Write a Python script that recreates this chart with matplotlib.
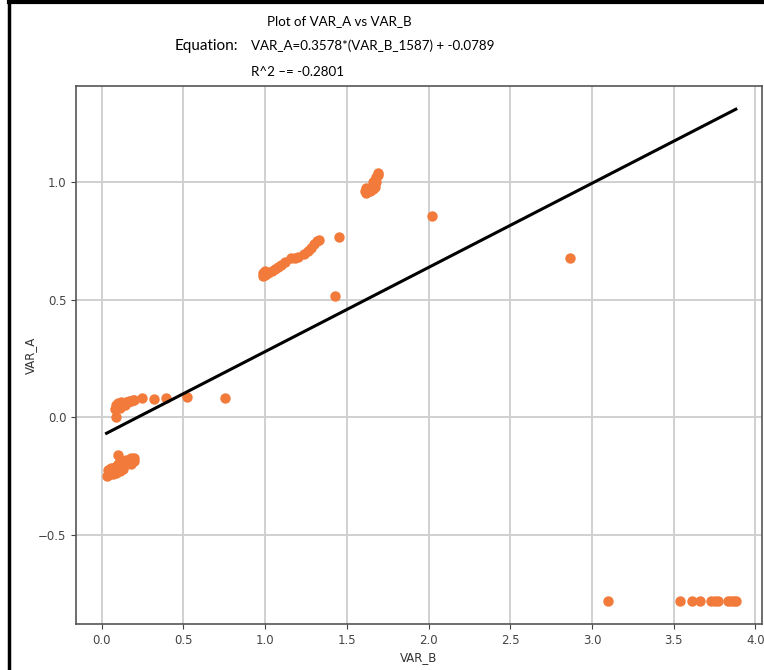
import matplotlib.pyplot as plt
from matplotlib.lines import Line2D

# data
var_b = [
    # lower left cluster
    0.03, 0.04, 0.05, 0.06, 0.07, 0.08, 0.09, 0.10, 0.11, 0.12, 0.13, 0.14,
    0.15, 0.16, 0.17, 0.18, 0.19, 0.20, 0.05, 0.10, 0.15, 0.18, 0.07, 0.13,
    0.04, 0.06, 0.08, 0.10, 0.12, 0.14, 0.16, 0.18, 0.20, 0.11, 0.09,
    # upper left cluster
    0.09, 0.08, 0.09, 0.10, 0.11, 0.12, 0.13, 0.14, 0.15, 0.16, 0.17, 0.18,
    0.19, 0.20, 0.10, 0.12, 0.11, 0.14, 0.085,
    0.245, 0.32, 0.395, 0.52, 0.755,
    # middle run
    0.99, 0.99, 1.00, 1.00, 1.02, 1.04, 1.06, 1.08, 1.10, 1.12, 1.16, 1.18,
    1.20, 1.24, 1.26, 1.28, 1.30, 1.32, 1.33, 1.45, 1.43,
    # upper cluster
    1.61, 1.62, 1.63, 1.64, 1.65, 1.66, 1.67, 1.66, 1.67, 1.68, 1.69, 1.69,
    1.68, 1.62,
    2.02, 2.864,
    # lower right
    3.10, 3.54, 3.61, 3.66, 3.73, 3.75, 3.77, 3.83, 3.85, 3.87, 3.88,
]
var_a = [
    -0.25, -0.245, -0.24, -0.235, -0.23, -0.23, -0.225, -0.22, -0.215, -0.21,
    -0.205, -0.20, -0.20, -0.195, -0.19, -0.19, -0.185, -0.185, -0.22, -0.16,
    -0.18, -0.20, -0.24, -0.22,
    -0.225, -0.215, -0.21, -0.20, -0.195, -0.185, -0.18, -0.175, -0.175,
    -0.23, -0.235,
    0.00, 0.035, 0.04, 0.045, 0.05, 0.055, 0.06, 0.06, 0.065, 0.065, 0.07,
    0.07, 0.075, 0.075, 0.06, 0.065, 0.04, 0.05, 0.05,
    0.082, 0.077, 0.082, 0.086, 0.081,
    0.60, 0.615, 0.62, 0.605, 0.615, 0.62, 0.63, 0.64, 0.645, 0.66, 0.675,
    0.675, 0.68, 0.695, 0.705, 0.72, 0.735, 0.75, 0.755, 0.765, 0.515,
    0.96, 0.955, 0.96, 0.96, 0.965, 0.97, 0.98, 1.00, 1.01, 1.02, 1.03, 1.04,
    1.00, 0.975,
    0.855, 0.675,
    -0.78, -0.78, -0.78, -0.78, -0.78, -0.78, -0.78, -0.78, -0.78, -0.78, -0.78,
]
slope = 0.3578
intercept = -0.0789

title_txt = "Plot of VAR_A vs VAR_B"
eq_label = "Equation:"
eq_txt = "VAR_A=0.3578*(VAR_B_1587) + -0.0789"
r2_txt = "R^2 \u2013= -0.2801"

fig = plt.figure(figsize=(7.64, 6.70), dpi=100)
ax = fig.add_axes([76 / 764, 46 / 670, 686 / 764, 538 / 670])

x_line = [min(var_b), max(var_b)]
y_line = [slope * v + intercept for v in x_line]

ax.scatter(var_b, var_a, s=42, color='#f27a3a', zorder=3)
ax.plot(x_line, y_line, color='black', lw=2.2, zorder=4)

ax.set_xlim(-0.157, 4.04)
ax.set_ylim(-0.879, 1.408)
ax.set_xticks([0.0, 0.5, 1.0, 1.5, 2.0, 2.5, 3.0, 3.5, 4.0])
ax.set_yticks([-0.5, 0.0, 0.5, 1.0])
ax.grid(True, color='#d0d0d0', lw=1.4)
ax.set_axisbelow(True)
for s in ax.spines.values():
    s.set_color('#555555')
    s.set_linewidth(1.2)
ax.tick_params(labelsize=8.5, colors='#444444', length=3.5)
ax.set_xlabel("VAR_B", fontsize=8.5, color='#333333', labelpad=3)
ax.set_ylabel("VAR_A", fontsize=8.5, color='#333333', labelpad=1)

hdr_font = ['Liberation Sans Narrow', 'Lato', 'DejaVu Sans']
fig.text(267 / 764, 1 - 21 / 670, title_txt, family=hdr_font, fontsize=9.6,
         va='center', ha='left')
fig.text(175 / 764, 1 - 46 / 670, eq_label, family=hdr_font, fontsize=11,
         va='center', ha='left')
fig.text(251 / 764, 1 - 46 / 670, eq_txt, family=hdr_font, fontsize=9.6,
         va='center', ha='left')
fig.text(251 / 764, 1 - 72 / 670, r2_txt, family=hdr_font, fontsize=9.6,
         va='center', ha='left')

# black frame along the top and left edges of the screenshot
fig.add_artist(Line2D([9 / 764, 9 / 764], [0, 1 - 2 / 670], color='black',
                      lw=2.5, transform=fig.transFigure))
fig.add_artist(Line2D([9 / 764, 1], [1 - 2 / 670, 1 - 2 / 670], color='black',
                      lw=3, transform=fig.transFigure))

plt.savefig('out.png', dpi=100)
